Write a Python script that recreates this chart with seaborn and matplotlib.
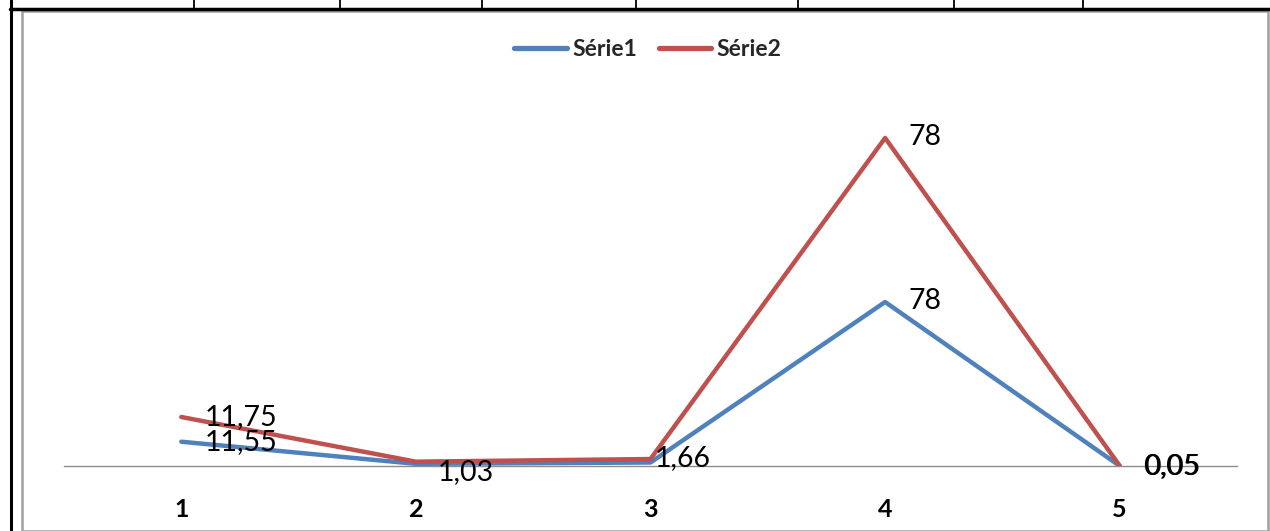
import matplotlib
matplotlib.use('Agg')
import matplotlib.pyplot as plt
from matplotlib.lines import Line2D
from matplotlib.patches import Rectangle
import seaborn as sns
import pandas as pd
import numpy as np

#---- Data ----#
categories = [1, 2, 3, 4, 5]
serie1 = [11.55, 1.03, 1.66, 78, 0.05]
serie2 = [11.75, 1.03, 1.66, 78, 0.05]
series_names = ['Série1', 'Série2']

# stacked line chart: Série2 drawn on top of Série1
stack1 = np.array(serie1)
stack2 = stack1 + np.array(serie2)

df = pd.DataFrame({
    'cat': categories * 2,
    'y': np.concatenate([stack1, stack2]),
    'val': serie1 + serie2,
    'serie': [series_names[0]] * 5 + [series_names[1]] * 5,
})

#---- Style ----#
sns.set_theme(style='white')
plt.rcParams['font.family'] = ['Lato', 'DejaVu Sans']
pal = {'Série1': '#4F81BD', 'Série2': '#C0504D'}

fig = plt.figure(figsize=(12.7, 5.31), dpi=100)
ax = fig.add_axes([64 / 1270, 65 / 531, 1173 / 1270, 378.5 / 531])

sns.lineplot(data=df, x='cat', y='y', hue='serie', palette=pal, linewidth=3.2,
             ax=ax, legend=True, sort=False)

ax.set_xlim(0.5, 5.5)
ax.set_ylim(0, 180)
ax.set_xticks(categories)
ax.set_xticklabels([str(c) for c in categories], fontsize=18, fontweight='bold')
ax.set_yticks([])
ax.set_xlabel('')
ax.set_ylabel('')
ax.tick_params(axis='x', length=0, pad=23, colors='black')
for s in ['top', 'right', 'left']:
    ax.spines[s].set_visible(False)
ax.spines['bottom'].set_color('#8c8c8c')
ax.spines['bottom'].set_linewidth(1)
ax.set_facecolor('none')

#---- Data labels (offset in pixels, per point) ----#
lab_off = {1: (23, 0), 2: (22, -8), 3: (4, 1), 4: (23, 1), 5: (23, 0)}
skip = {('Série1', 3), ('Série2', 2)}
for _, r in df.iterrows():
    if (r['serie'], r['cat']) in skip:
        continue
    dx, dy = lab_off[r['cat']]
    if r['serie'] == 'Série2' and r['cat'] == 5:
        dx += 1  # the two overlapping labels look bold in the original
    txt = ('%g' % r['val']).replace('.', ',')
    ax.annotate(txt, (r['cat'], r['y']), xytext=(dx, dy),
                textcoords='offset pixels', ha='left', va='center',
                fontsize=20.5, color='black', annotation_clip=False)

#---- Legend ----#
leg = ax.legend(loc='center', bbox_to_anchor=(0.51, 1 - 50 / 531),
                bbox_transform=fig.transFigure, ncol=2, frameon=False,
                fontsize=16.5, handlelength=2.3, handletextpad=0.22,
                columnspacing=0.95, title=None)
for t in leg.get_texts():
    t.set_fontweight('bold')
for h in leg.get_lines():
    h.set_linewidth(3.8)

#---- Table / frame decoration ----#
W, H = 1270, 531
def fx(px):
    return px / W
def fy(py):
    return 1 - py / H

fig.add_artist(Rectangle((fx(22), fy(531)), fx(1268) - fx(22), fy(11) - fy(531),
                         transform=fig.transFigure, fill=False,
                         edgecolor='#a0a0a0', linewidth=1.8))
fig.add_artist(Line2D([fx(10), fx(1270)], [fy(8.5), fy(8.5)],
                      transform=fig.transFigure, color='black', linewidth=2.5))
fig.add_artist(Line2D([fx(10.5), fx(10.5)], [fy(0), fy(531)],
                      transform=fig.transFigure, color='black', linewidth=2.2))
for xp in [194, 340, 482, 636, 798, 954, 1083]:
    fig.add_artist(Line2D([fx(xp), fx(xp)], [fy(0), fy(8)],
                          transform=fig.transFigure, color='black', linewidth=1.3))

fig.savefig('out.png', dpi=100, facecolor='white')
